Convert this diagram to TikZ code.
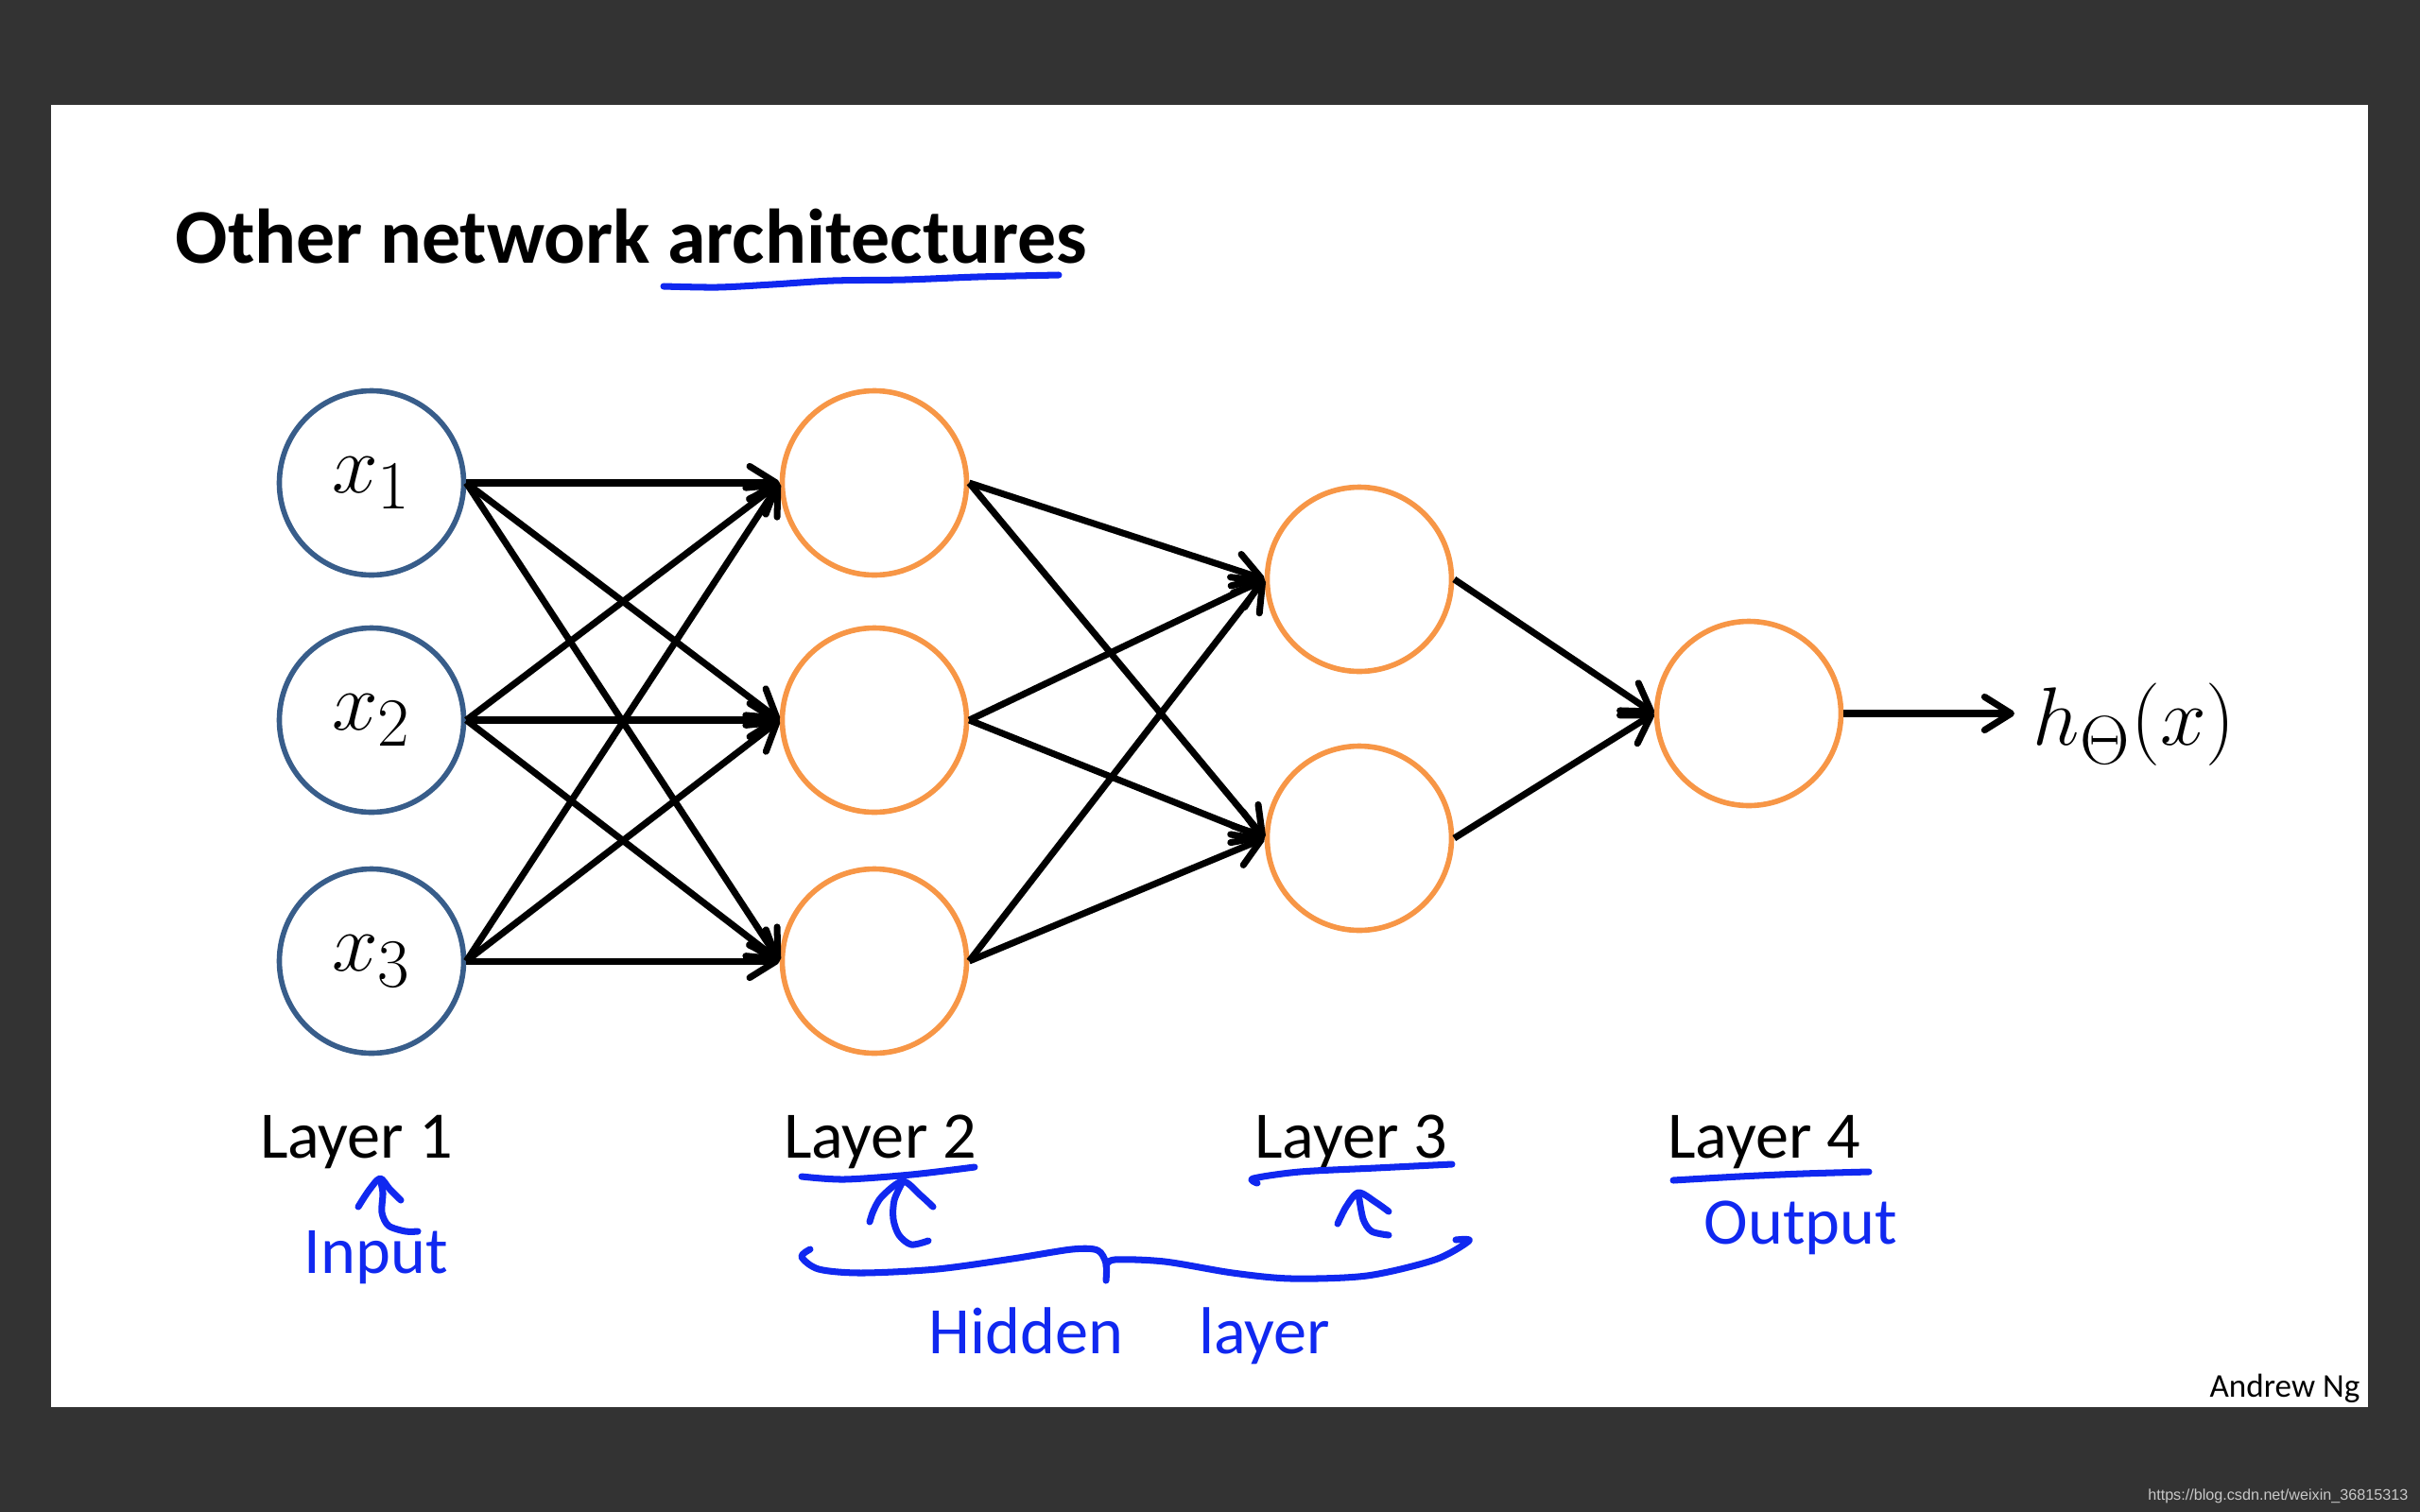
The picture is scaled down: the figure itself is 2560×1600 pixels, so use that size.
\documentclass[tikz,border=0pt]{standalone}
\usepackage{fontspec}
\usetikzlibrary{arrows.meta}
\newfontfamily\calibri{Carlito}
\newfontfamily\arialfont{Liberation Sans}
\definecolor{slidegrey}{HTML}{333333}
\definecolor{inblue}{HTML}{385D8A}
\definecolor{hidorange}{HTML}{F79646}
\definecolor{penblue}{RGB}{16,40,240}
\tikzset{
  pen/.style={penblue, line width=2pt, line cap=round, line join=round},
  layerlabel/.style={anchor=base, inner sep=0pt, font=\calibri\fontsize{20}{24}\selectfont},
  penlabel/.style={anchor=base west, inner sep=0pt, text=penblue, font=\calibri\fontsize{20}{24}\selectfont},
}

\begin{document}
\begin{tikzpicture}[x=0.1mm,y=-0.1mm]

      \useasboundingbox (0,0) rectangle (2560,1600);
      \fill[slidegrey] (0,0) rectangle (2560,1600);
      \fill[white] (54,111) rectangle (2505,1489);

      \node[anchor=base west, inner sep=0pt, font=\calibri\bfseries\fontsize{23.3}{28}\selectfont] (title) at (185,278) {Other network architectures};

      \begin{scope}[every node/.style={circle, line width=1.6pt, minimum size=1.95cm, inner sep=0pt, font=\fontsize{28}{33}\selectfont}]
        \node[draw=inblue] (1) at (393,511)  {$x_1$};
        \node[draw=inblue] (2) at (393,762)  {$x_2$};
        \node[draw=inblue] (3) at (393,1017) {$x_3$};
        \node[draw=hidorange] (4) at (925,511)  {};
        \node[draw=hidorange] (5) at (925,762)  {};
        \node[draw=hidorange] (6) at (925,1017) {};
        \node[draw=hidorange] (7) at (1438,613) {};
        \node[draw=hidorange] (8) at (1438,887) {};
        \node[draw=hidorange] (9) at (1850,755) {};
      \end{scope}

      \coordinate (tip) at (2131,755);
      \node[anchor=west, inner sep=0pt, font=\fontsize{29}{34}\selectfont] (out) at (2150,767) {$h_\Theta(x)$};

      \begin{scope}[every edge/.style={draw, line width=2pt, -{Straight Barb[length=8pt,width=10pt,round]}}]
        \path (1.east) edge (4.west);
        \path (1.east) edge (5.west);
        \path (1.east) edge (6.west);
        \path (2.east) edge (4.west);
        \path (2.east) edge (5.west);
        \path (2.east) edge (6.west);
        \path (3.east) edge (4.west);
        \path (3.east) edge (5.west);
        \path (3.east) edge (6.west);
        \path (4.east) edge (7.west);
        \path (4.east) edge (8.west);
        \path (5.east) edge (7.west);
        \path (5.east) edge (8.west);
        \path (6.east) edge (7.west);
        \path (6.east) edge (8.west);
        \path (7.east) edge (9.west);
        \path (8.east) edge (9.west);
        \path (9.east) edge (tip);
      \end{scope}

      % layer names
      \node[layerlabel] (l1) at (377,1225)  {Layer 1};
      \node[layerlabel] (l2) at (931,1225)  {Layer 2};
      \node[layerlabel] (l3) at (1429,1225) {Layer 3};
      \node[layerlabel] (l4) at (1866,1225) {Layer 4};

      \node[anchor=base east, inner sep=0pt, font=\calibri\fontsize{10}{12}\selectfont] (author) at (2497,1478) {Andrew Ng};
      \node[anchor=base east, inner sep=0pt, text={rgb,255:red,200;green,200;blue,200}, font=\arialfont\fontsize{4.6}{6}\selectfont] (mark) at (2548,1587) {https://blog.csdn.net/weixin\_36815313};

      % pen notes
      \draw[pen] plot[smooth] coordinates {(702,303) (759,304) (817,301) (881,297) (957,296) (1034,293) (1120,291)};
      \draw[pen] plot[smooth] coordinates {(848,1245) (893,1248) (964,1243) (1031,1235)};
      \draw[pen] plot[smooth] coordinates {(1330,1252) (1326,1247) (1375,1240) (1455,1236) (1536,1232)};
      \draw[pen] plot[smooth] coordinates {(1770,1249) (1840,1245) (1907,1242) (1977,1240)};

      \draw[pen] plot[smooth] coordinates {(402,1248) (405,1262) (404,1283) (411,1297) (429,1303) (442,1303)};
      \draw[pen] plot[smooth] coordinates {(379,1277) (390,1260) (402,1247) (412,1258) (424,1270)};

      \draw[pen] plot[smooth] coordinates {(955,1250) (946,1270) (945,1290) (951,1307) (964,1317) (982,1313)};
      \draw[pen] plot[smooth] coordinates {(920,1293) (924,1281) (933,1266) (955,1250) (974,1265) (987,1277)};

      \draw[pen] plot[smooth] coordinates {(1437,1263) (1442,1290) (1451,1303) (1469,1307)};
      \draw[pen] plot[smooth] coordinates {(1415,1295) (1424,1277) (1437,1262) (1455,1272) (1469,1282)};

      \draw[pen] plot[smooth] coordinates {(857,1322) (848,1330) (866,1343) (911,1347) (991,1343) (1071,1332) (1134,1322) (1161,1323) (1170,1337) (1170,1355)};
      \draw[pen] plot[smooth] coordinates {(1170,1340) (1179,1333) (1232,1335) (1304,1347) (1366,1353) (1446,1350) (1518,1333) (1554,1313) (1540,1312)};

      \node[penlabel] (input) at (321,1347)  {Input};
      \node[penlabel] (hidden) at (982,1432) {Hidden\hspace{0.8cm}layer};
      \node[penlabel] (output) at (1802,1316) {Output};

    \end{tikzpicture}
\end{document}
